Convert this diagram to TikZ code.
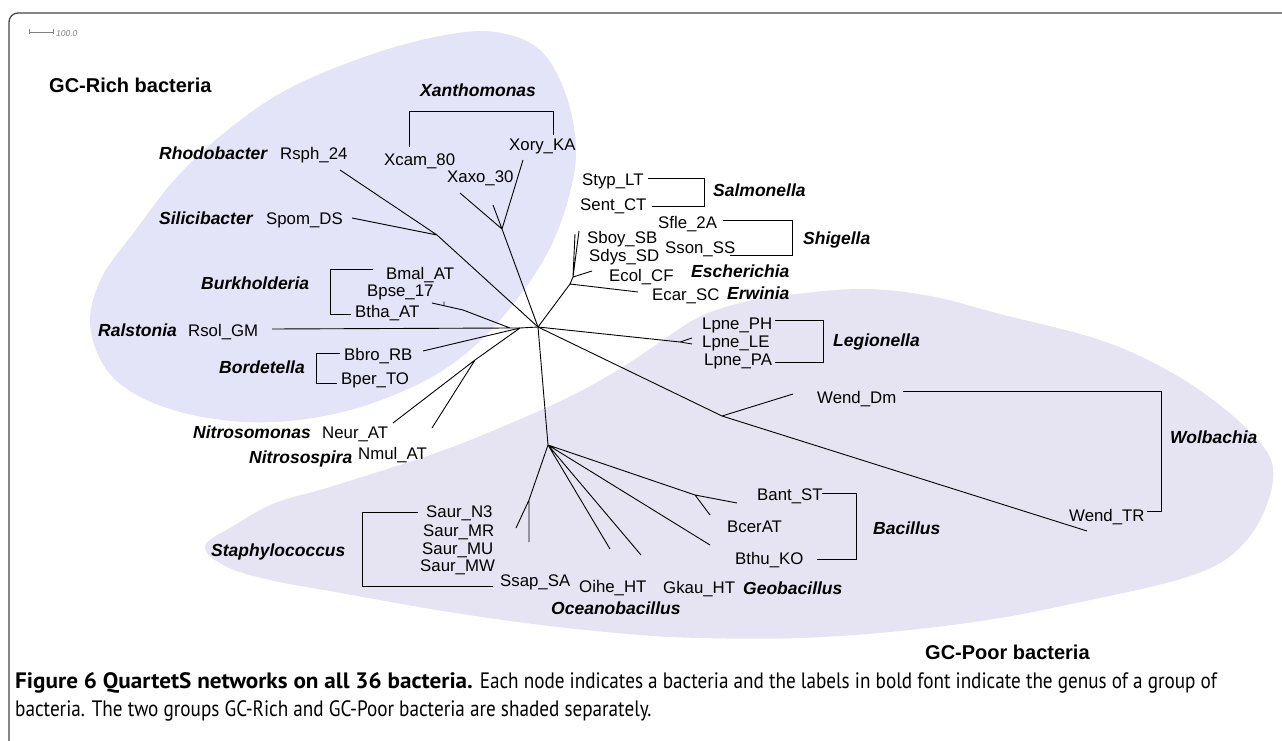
\documentclass[tikz,border=0pt]{standalone}
\usepackage{fontspec}
\setmainfont{Liberation Sans}
\newfontfamily\capreg[FakeStretch=0.86]{PT Sans}
\newfontfamily\capbf[FakeStretch=1.04]{PT Sans}
\newlength\capwa
\newlength\capwb
\definecolor{richc}{RGB}{228,228,248}
\definecolor{poorc}{RGB}{230,228,242}
\definecolor{framec}{RGB}{70,70,70}
\newcommand\capboldtext{Figure 6 QuartetS networks on all 36 bacteria.}
\newcommand\capregtext{ Each node indicates a bacteria and the labels in bold font indicate the genus of a group of}
\begin{document}
\settowidth\capwa{\capbf\bfseries\fontsize{18}{22}\selectfont\capboldtext}%
\settowidth\capwb{\capreg\fontsize{18}{22}\selectfont\capregtext}%
\pgfmathsetmacro\capsz{18*(1200/(\capwa+\capwb))}%
\begin{tikzpicture}[x=1pt,y=-1pt,
  br/.style={line width=0.9pt,black},
  bkt/.style={line width=1pt,black},
  leaf/.style={anchor=base west,inner sep=0pt,font=\fontsize{16.8}{20}\selectfont},
  genus/.style={anchor=base west,inner sep=0pt,font=\fontsize{17.5}{21}\selectfont\bfseries\itshape},
  grp/.style={anchor=base west,inner sep=0pt,font=\fontsize{20}{24}\selectfont\bfseries},
  captext/.style={anchor=base west,inner sep=0pt,font=\capreg\fontsize{\capsz}{\capsz}\selectfont}]
\useasboundingbox (0,0) rectangle (1282,741);
\fill[white] (0,0) rectangle (1282,741);
% frame
\draw[framec,line width=1.3pt,rounded corners=9pt] (1300,13) -- (9,13) -- (9,760);
% shaded groups
\fill[richc] plot[smooth cycle,tension=0.6] coordinates {(90,322) (102,277) (135,231) (176,178) (224,133) (286,90) (367,56) (440,36) (495,32) (540,50) (566,95) (576,150) (568,200) (549,250) (518,298) (478,343) (430,378) (367,405) (306,419) (245,422) (184,413) (135,394) (104,366)};
\fill[poorc] plot[smooth cycle,tension=0.6] coordinates {(205,546) (235,525) (275,503) (330,487) (430,455) (490,432) (563,400) (613,373) (650,349) (697,318) (740,303) (780,296) (860,289) (930,296) (1000,314) (1100,340) (1167,370) (1217,403) (1255,437) (1272,463) (1270,495) (1253,532) (1225,560) (1190,576) (1150,587) (1090,600) (1000,618) (900,631) (800,638) (700,638) (628,634) (533,624) (437,610) (341,593) (270,580) (225,566)};
% scale bar
\coordinate (sbA) at (29,32); \coordinate (sbB) at (53,32);
\draw[gray,line width=0.6pt] (sbA) -- (sbB) (29,29.5) -- (29,34.5) (53,29.5) -- (53,34.5);
\node[anchor=base west,inner sep=0pt,gray,font=\fontsize{8.5}{10}\selectfont\itshape] (sbt) at (56,37) {100.0};
% tree coordinates
\coordinate (hub) at (538,327);
\coordinate (x1) at (502,229);
\coordinate (xaxoE) at (460,193);
\coordinate (xcamE) at (493,205);
\coordinate (xoryE) at (523,160);
\coordinate (r1) at (437,235);
\coordinate (rsphE) at (340,170);
\coordinate (spomE) at (352,218);
\coordinate (bt0) at (432,303);
\coordinate (bt1) at (463,310);
\coordinate (bpsA) at (444,301.5);
\coordinate (bpsB) at (444,306);
\coordinate (j0) at (510,328);
\coordinate (j1) at (520,328);
\coordinate (rsolE) at (272,329);
\coordinate (bbroE) at (423,351);
\coordinate (n1) at (475,360);
\coordinate (neurE) at (393,423);
\coordinate (nmulE) at (432,428);
\coordinate (e1) at (570,284);
\coordinate (e2) at (573,277);
\coordinate (ecarE) at (638,292);
\coordinate (ecolE) at (592,271);
\coordinate (sboyE) at (575,234);
\coordinate (sdysE) at (579,231);
\coordinate (l1) at (680,342);
\coordinate (lpA) at (692,338);
\coordinate (lpB) at (692,344);
\coordinate (w1) at (722,416);
\coordinate (wdmE) at (793,394);
\coordinate (wtrE) at (1087,531);
\coordinate (g) at (548,445);
\coordinate (s1) at (529,500);
\coordinate (saurE) at (516,528);
\coordinate (ssapE) at (529,542);
\coordinate (oiheE) at (610,549);
\coordinate (gkauE) at (641,555);
\coordinate (bthuE) at (710,545);
\coordinate (b1) at (695,495);
\coordinate (bantE) at (737,503);
\coordinate (bcerE) at (710,515);
% branches
\draw[br] (hub) -- (x1) -- (xoryE) (x1) -- (xaxoE) (x1) -- (xcamE);
\draw[br] (hub) -- (r1) -- (rsphE) (r1) -- (spomE);
\draw[br] (rsolE) -- (j0) -- (j1) -- (hub) (j0) -- (bt1) -- (bt0) (bpsA) -- (bpsB);
\draw[br] (j1) -- (bbroE) (j1) -- (n1) -- (neurE) (n1) -- (nmulE);
\draw[br] (hub) -- (e1) -- (ecarE) (e1) -- (e2) -- (ecolE) (e2) -- (sboyE) (e2) -- (sdysE);
\draw[br] (hub) -- (l1) -- (lpA) (l1) -- (lpB);
\draw[br] (hub) -- (w1) -- (wdmE) (w1) -- (wtrE);
\draw[br] (hub) -- (g) -- (s1) -- (saurE) (s1) -- (ssapE);
\draw[br] (g) -- (oiheE) (g) -- (gkauE) (g) -- (bthuE) (g) -- (b1) -- (bantE) (b1) -- (bcerE);
% brackets
\coordinate (xa) at (409,147); \coordinate (xb) at (409,112); \coordinate (xc) at (553,112); \coordinate (xd) at (553,135);
\draw[bkt] (xa) -- (xb) -- (xc) -- (xd);
\coordinate (sa) at (648,178); \coordinate (sb) at (704,178); \coordinate (sc) at (704,206); \coordinate (sd) at (652,206);
\draw[bkt] (sa) -- (sb) -- (sc) -- (sd);
\coordinate (ha) at (723,220); \coordinate (hb) at (792,220); \coordinate (hc) at (792,255); \coordinate (hd) at (730,255);
\draw[bkt] (ha) -- (hb) -- (hc) -- (hd);
\coordinate (ba) at (373,269); \coordinate (bb) at (330,269); \coordinate (bc) at (330,314); \coordinate (bd) at (351,314);
\draw[bkt] (ba) -- (bb) -- (bc) -- (bd);
\coordinate (da) at (340,353); \coordinate (db) at (316,353); \coordinate (dc) at (316,383); \coordinate (dd) at (337,383);
\draw[bkt] (da) -- (db) -- (dc) -- (dd);
\coordinate (la) at (775,320); \coordinate (lb) at (823,320); \coordinate (lc) at (823,362); \coordinate (ld) at (775,362);
\draw[bkt] (la) -- (lb) -- (lc) -- (ld);
\coordinate (wa) at (903,391); \coordinate (wb) at (1161,391); \coordinate (wc) at (1161,511); \coordinate (wd) at (1147,511);
\draw[bkt] (wa) -- (wb) -- (wc) -- (wd);
\coordinate (ca) at (822,493); \coordinate (cb) at (856,493); \coordinate (cc) at (856,559); \coordinate (cd) at (817,559);
\draw[bkt] (ca) -- (cb) -- (cc) -- (cd);
\coordinate (ta) at (418,512); \coordinate (tb) at (362,512); \coordinate (tc) at (362,586); \coordinate (td) at (493,586);
\draw[bkt] (ta) -- (tb) -- (tc) -- (td);
% group titles
\node[grp] (gcrich) at (49,92.5) {GC-Rich bacteria};
\node[grp] (gcpoor) at (925,659) {GC-Poor bacteria};
% genus labels
\node[genus] (gRho) at (159,159.3) {Rhodobacter};
\node[genus] (gXan) at (420,96.3) {Xanthomonas};
\node[genus] (gSil) at (159,224.3) {Silicibacter};
\node[genus] (gBur) at (201,289.3) {Burkholderia};
\node[genus] (gRal) at (98,336.3) {Ralstonia};
\node[genus] (gBor) at (219,373.3) {Bordetella};
\node[genus] (gNso) at (193,438.3) {Nitrosomonas};
\node[genus] (gNsp) at (249,463.3) {Nitrosospira};
\node[genus] (gSal) at (713,196.3) {Salmonella};
\node[genus] (gShi) at (803,244.3) {Shigella};
\node[genus] (gEsc) at (691,277.3) {Escherichia};
\node[genus] (gErw) at (727,299.3) {Erwinia};
\node[genus] (gLeg) at (833,346.3) {Legionella};
\node[genus] (gWol) at (1170,443.3) {Wolbachia};
\node[genus] (gBac) at (873,534.3) {Bacillus};
\node[genus] (gGeo) at (743,594.3) {Geobacillus};
\node[genus] (gOce) at (551,614.3) {Oceanobacillus};
\node[genus] (gSta) at (211,556.3) {Staphylococcus};
% leaf labels
\node[leaf] (rsph) at (280,159) {Rsph\_24};
\node[leaf] (xcam) at (384,165) {Xcam\_80};
\node[leaf] (xaxo) at (447,182) {Xaxo\_30};
\node[leaf] (xory) at (509,150) {Xory\_KA};
\node[leaf] (spom) at (266,224) {Spom\_DS};
\node[leaf] (bmal) at (386,279) {Bmal\_AT};
\node[leaf] (bpse) at (367,296) {Bpse\_17};
\node[leaf] (btha) at (355,317) {Btha\_AT};
\node[leaf] (rsol) at (188,336) {Rsol\_GM};
\node[leaf] (bbro) at (344,360) {Bbro\_RB};
\node[leaf] (bper) at (341,384) {Bper\_TO};
\node[leaf] (neur) at (322,438) {Neur\_AT};
\node[leaf] (nmul) at (358,459) {Nmul\_AT};
\node[leaf] (styp) at (582,185) {Styp\_LT};
\node[leaf] (sent) at (580,210) {Sent\_CT};
\node[leaf] (sfle) at (658,228) {Sfle\_2A};
\node[leaf] (sson) at (665,253) {Sson\_SS};
\node[leaf] (sboy) at (587,243) {Sboy\_SB};
\node[leaf] (sdys) at (589,261) {Sdys\_SD};
\node[leaf] (ecol) at (609,281) {Ecol\_CF};
\node[leaf] (ecar) at (652,300) {Ecar\_SC};
\node[leaf] (lph) at (702,329) {Lpne\_PH};
\node[leaf] (lle) at (702,347) {Lpne\_LE};
\node[leaf] (lpa) at (704,365) {Lpne\_PA};
\node[leaf] (wdm) at (817,403) {Wend\_Dm};
\node[leaf] (wtr) at (1069,521) {Wend\_TR};
\node[leaf] (bant) at (757,500) {Bant\_ST};
\node[leaf] (bcer) at (727,532) {BcerAT};
\node[leaf] (bthu) at (735,564) {Bthu\_KO};
\node[leaf] (gkau) at (663,593) {Gkau\_HT};
\node[leaf] (oihe) at (579,592) {Oihe\_HT};
\node[leaf] (ssap) at (500,586) {Ssap\_SA};
\node[leaf] (sn3) at (426,517) {Saur\_N3};
\node[leaf] (smr) at (423,536) {Saur\_MR};
\node[leaf] (smu) at (422,554) {Saur\_MU};
\node[leaf] (smw) at (420,571) {Saur\_MW};
% caption
\node[captext] (cap1) at (15,688) {{\capbf\bfseries\capboldtext}\capregtext};
\node[captext] (cap2) at (15,716) {bacteria. The two groups GC-Rich and GC-Poor bacteria are shaded separately.};
\end{tikzpicture}
\end{document}
